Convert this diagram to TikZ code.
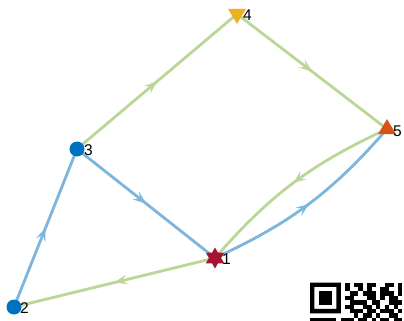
\documentclass[tikz,border=0pt]{standalone}
\usepackage{fontspec}
\setmainfont{Liberation Sans}
\usetikzlibrary{shapes.geometric,arrows.meta,decorations.markings}
\definecolor{nblue}{RGB}{0,114,189}
\definecolor{nyellow}{RGB}{237,177,32}
\definecolor{norange}{RGB}{217,83,25}
\definecolor{nred}{RGB}{162,20,47}
\definecolor{eblue}{RGB}{124,182,222}
\definecolor{egreen}{RGB}{187,215,152}
\tikzset{
  edgeline/.style={line width=2.8pt, postaction={decorate}, decoration={markings,
     mark=at position 0.5 with {\arrow[#1]{Stealth[length=13pt,width=10pt,inset=5.5pt]}}}},
  eb/.style={edgeline=eblue, draw=eblue},
  eg/.style={edgeline=egreen, draw=egreen},
  dot/.style={circle, fill=nblue, inner sep=0pt, minimum size=15pt},
  lab/.style={anchor=west, inner sep=0pt, font=\fontsize{15.5}{17}\selectfont},
  qr/.style={fill=black}
}
\begin{document}
\begin{tikzpicture}[x=1pt,y=-1pt]
\useasboundingbox[fill=white] (0,0) rectangle (404,321);
\coordinate (c1) at (215,258);
\coordinate (c2) at (14,307);
\coordinate (c3) at (77,149);
\coordinate (c4) at (237,14);
\coordinate (c5) at (387,129);
% edges
\draw[eb] (c3) -- (c1);
\draw[eb] (c2) -- (c3);
\draw[eg] (c1) -- (c2);
\draw[eg] (c3) -- (c4);
\draw[eg] (c4) -- (c5);
\draw[eg] (c5) to[bend right=12] (c1);
\draw[eb] (c1) to[bend right=12] (c5);
% nodes
\node[star, star points=6, star point ratio=1.73, fill=nred, inner sep=0pt, minimum size=21pt] (n1) at (c1) {};
\node[dot] (n2) at (c2) {};
\node[dot] (n3) at (c3) {};
\node[isosceles triangle, isosceles triangle apex angle=62, shape border rotate=-90, fill=nyellow, inner sep=0pt, minimum height=14pt, minimum width=18pt] (n4) at (c4) {};
\node[isosceles triangle, isosceles triangle apex angle=62, shape border rotate=90, fill=norange, inner sep=0pt, minimum height=14pt, minimum width=18pt] (n5) at (c5) {};
\node[lab] (l1) at (222,259) {1};
\node[lab] (l2) at (20,308) {2};
\node[lab] (l3) at (84,150) {3};
\node[lab] (l4) at (243,15) {4};
\node[lab] (l5) at (393,131) {5};
% QR fragment
\begin{scope}
\clip (0,0) rectangle (404,321);
\fill[qr, even odd rule] (310,282.5) rectangle ++(30.8,30.8) (314.4,286.9) rectangle ++(22,22);
\fill[qr] (318.8,291.3) rectangle ++(13.2,13.2);
\foreach \r/\cols in {0/{8,10,11,13,14,17,18,20},1/{8,11,13,16,17,20},2/{9,10,12,13,14,16,17,18,20},3/{8,9,13,14,16,18,19},4/{9,10,11,12,14,15,18,19,20},5/{8,9,12,13,15,17,19},6/{9,10,11,13,14,16,17,18,20},7/{10,12,13,15,18,19},8/{0,1,2,3,4,5,7,8,9,11,12,14,16,17,19,20}}{
  \foreach \c in \cols {\fill[qr] (310+\c*4.4,282.5+\r*4.4) rectangle ++(4.45,4.45);}
}
\end{scope}
\end{tikzpicture}
\end{document}
